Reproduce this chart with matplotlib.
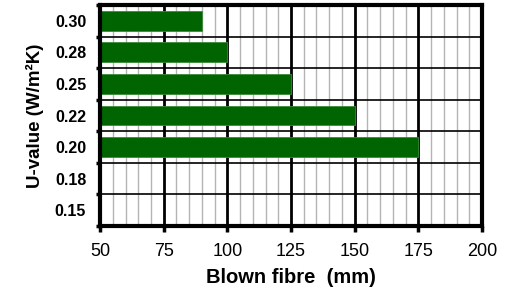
import numpy as np
import matplotlib.pyplot as plt
from matplotlib.ticker import MultipleLocator, FixedLocator, NullFormatter

plt.rcParams['font.family'] = ['Liberation Sans', 'DejaVu Sans']

# Data
u_values = ['0.15', '0.18', '0.20', '0.22', '0.25', '0.28', '0.30']
thickness = [np.nan, np.nan, 175, 150, 125, 100, 90]  # mm of blown fibre
x_start = 50

fig = plt.figure(figsize=(5.13, 2.96), dpi=100)
ax = fig.add_axes([0.195, 0.2365, 0.7446, 0.7465])

pos = np.arange(len(u_values))
widths = np.array(thickness, dtype=float) - x_start
ax.barh(pos, widths, left=x_start, height=0.63, color='#006400',
        edgecolor='#3a8a3a', linewidth=0.6, zorder=3)

ax.set_xlim(50, 200)
ax.set_ylim(-0.5, len(u_values) - 0.5)

# x grid: black at 25, grey every 5
ax.xaxis.set_major_locator(MultipleLocator(25))
ax.xaxis.set_minor_locator(MultipleLocator(5))
ax.grid(which='minor', axis='x', color='#b4b4b4', linewidth=1.0, zorder=1)
ax.grid(which='major', axis='x', color='black', linewidth=2.0, zorder=2)

# y: ticks/grid on category boundaries, labels centred in rows
ax.yaxis.set_major_locator(FixedLocator(np.arange(-0.5, len(u_values), 1.0)))
ax.yaxis.set_major_formatter(NullFormatter())
ax.yaxis.set_minor_locator(FixedLocator(pos))
ax.set_yticklabels(u_values, minor=True, fontsize=11.5, fontweight='bold')
ax.grid(which='major', axis='y', color='black', linewidth=1.2, zorder=2)
ax.tick_params(axis='y', which='minor', length=0, pad=10)
ax.tick_params(axis='y', which='major', length=3, width=2.5, direction='out')
ax.tick_params(axis='x', which='major', length=4, width=2.5, direction='out',
               labelsize=13, pad=8)
ax.tick_params(axis='x', which='minor', length=0)

for sp in ax.spines.values():
    sp.set_linewidth(3)
    sp.set_zorder(5)

ax.set_xlabel('Blown fibre  (mm)', fontsize=14.5, fontweight='bold', labelpad=6)
ax.set_ylabel('U-value (W/m²K)', fontsize=13.5, fontweight='bold', labelpad=8)

fig.savefig('out.png', dpi=100)
